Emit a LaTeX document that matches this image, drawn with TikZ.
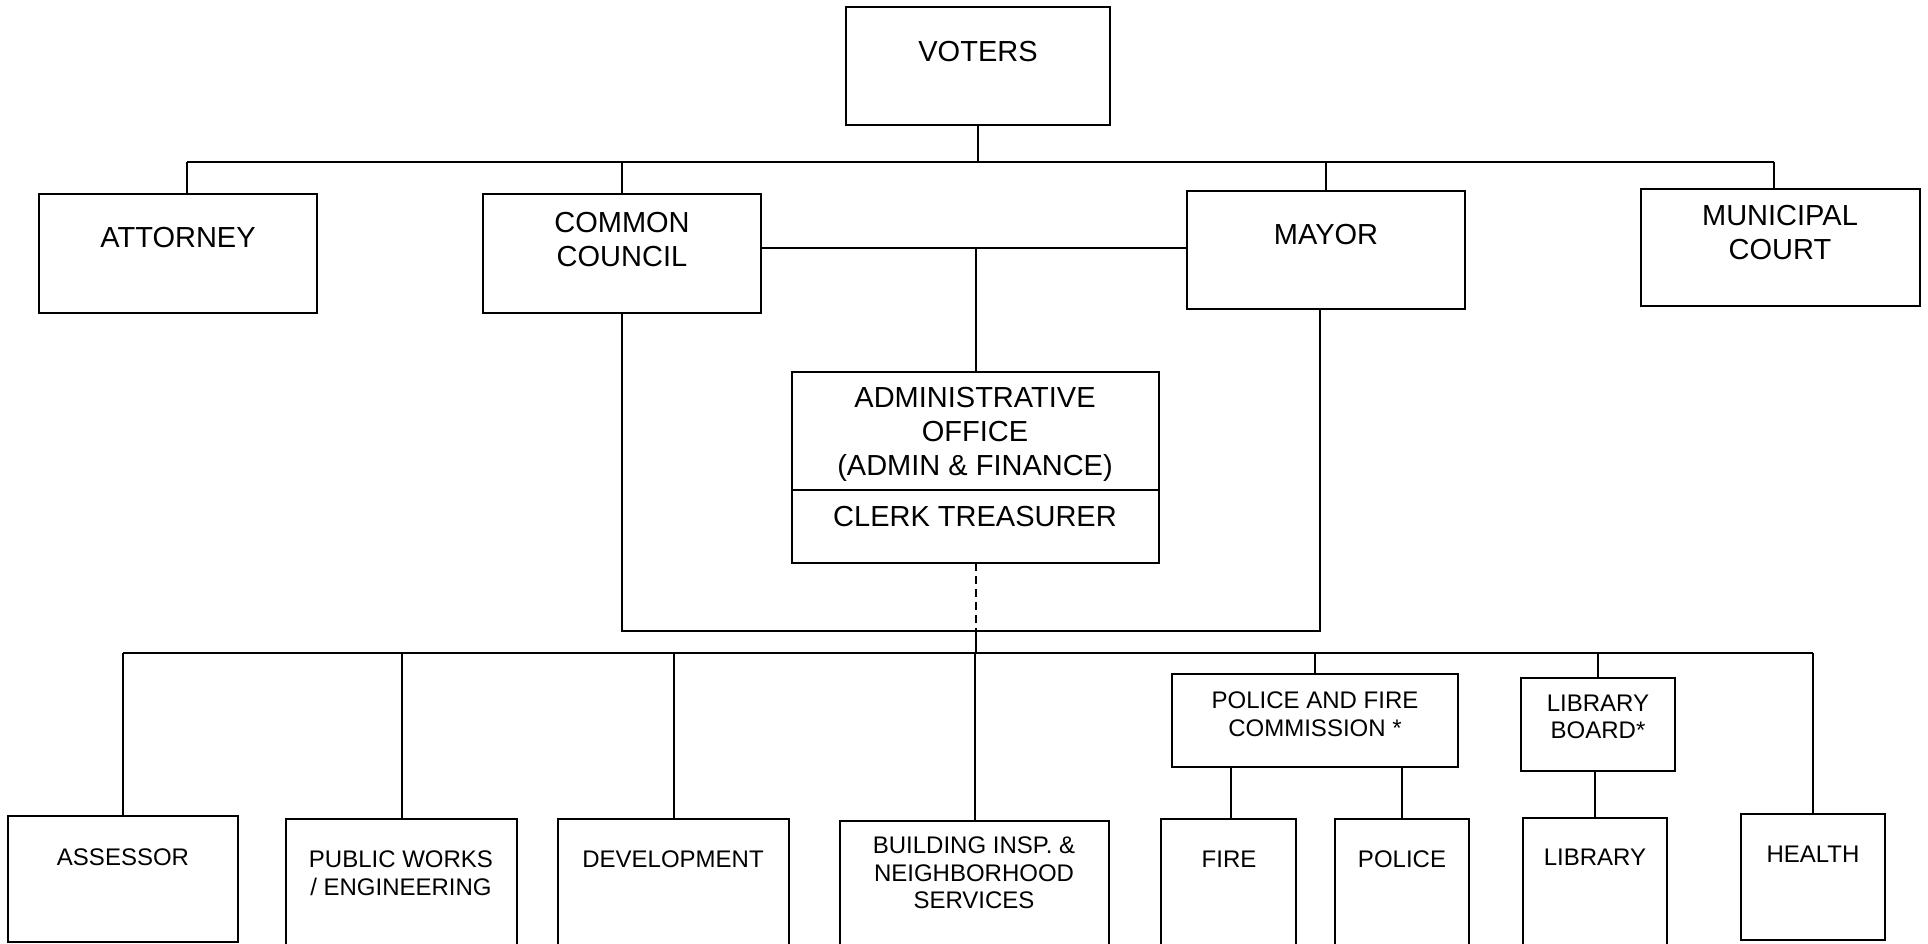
\documentclass[tikz,border=0pt]{standalone}
\usepackage{fontspec}
\setmainfont{Liberation Sans}
\usetikzlibrary{fit}
\tikzset{
    box/.style={draw, line width=1pt, inner sep=0pt, outer sep=0pt},
    big/.style={font=\fontsize{14.5}{17}\selectfont, align=center, inner sep=0pt},
    small/.style={font=\fontsize{12}{13.75}\selectfont, align=center, inner sep=0pt},
    link/.style={line width=1pt},
}
\begin{document}
\begin{tikzpicture}[x=0.5pt, y=-0.5pt]
    \fill[white] (0,0) rectangle (1928,943);
    \useasboundingbox (0,0) rectangle (1928,943);
    % top row
    \node[box, fit={(846,7) (1110,125)}] (voters) {};
    \node[box, fit={(39,194) (317,313)}] (attorney) {};
    \node[box, fit={(483,194) (761,313)}] (council) {};
    \node[box, fit={(1187,191) (1465,309)}] (mayor) {};
    \node[box, fit={(1641,189) (1920,306)}] (court) {};
    \node[box, fit={(792,372) (1159,563)}] (admin) {};
    % departments
    \node[box, fit={(8,816) (238,942)}] (assessor) {};
    \node[box, fit={(286,819) (517,948)}] (pworks) {};
    \node[box, fit={(558,819) (789,948)}] (devel) {};
    \node[box, fit={(840,821) (1109,948)}] (bldg) {};
    \node[box, fit={(1172,674) (1458,767)}] (pfc) {};
    \node[box, fit={(1161,819) (1296,948)}] (fire) {};
    \node[box, fit={(1335,819) (1469,948)}] (police) {};
    \node[box, fit={(1521,678) (1675,771)}] (lboard) {};
    \node[box, fit={(1523,818) (1667,948)}] (library) {};
    \node[box, fit={(1741,814) (1885,940)}] (health) {};
    % texts
    \node[big] (votersT) at (978,52) {VOTERS};
    \node[big] (attorneyT) at (178,238) {ATTORNEY};
    \node[big] (councilT) at (622,240) {COMMON\\COUNCIL};
    \node[big] (mayorT) at (1326,235) {MAYOR};
    \node[big] (courtT) at (1780,233) {MUNICIPAL\\COURT};
    \node[big] (adminT) at (975,434) {ADMINISTRATIVE\\OFFICE\\(ADMIN \& FINANCE)};
    \node[big] (clerkT) at (975,517) {CLERK TREASURER};
    \node[small] (assessorT) at (123,857) {ASSESSOR};
    \node[small] (pworksT) at (401,873) {PUBLIC WORKS\\/ ENGINEERING};
    \node[small] (develT) at (673,859) {DEVELOPMENT};
    \node[small] (bldgT) at (974,873) {BUILDING INSP. \&\\NEIGHBORHOOD\\SERVICES};
    \node[small] (pfcT) at (1315,714) {POLICE AND FIRE\\COMMISSION *};
    \node[small] (fireT) at (1229,859) {FIRE};
    \node[small] (policeT) at (1402,859) {POLICE};
    \node[small] (lboardT) at (1598,717) {LIBRARY\\BOARD*};
    \node[small] (libraryT) at (1595,857) {LIBRARY};
    \node[small] (healthT) at (1813,854) {HEALTH};
    % connectors
    \coordinate (topbus) at (978,162);
    \coordinate (cm) at (975.5,248);
    \coordinate (div) at (975,490);
    \coordinate (loop) at (975,631);
    \coordinate (botbus) at (975,653);
    \draw[link] (voters.south) -- (topbus);
    \draw[link] ([xshift=4.5pt]attorney.north |- topbus) -- ([xshift=-3.5pt]court.north |- topbus);
    \draw[link] ([xshift=4.5pt]attorney.north |- topbus) -- ([xshift=4.5pt]attorney.north);
    \draw[link] ([xshift=-3.5pt]court.north |- topbus) -- ([xshift=-3.5pt]court.north);
    \foreach \n in {council,mayor}
        \draw[link] (\n.north |- topbus) -- (\n.north);
    \draw[link] (council.east |- cm) -- (mayor.west |- cm);
    \draw[link] (cm) -- (admin.north);
    \draw[link] (admin.west |- div) -- (admin.east |- div);
    \draw[link] (council.south) -- (council.south |- loop) -- ([xshift=-3pt]mayor.south |- loop) -- ([xshift=-3pt]mayor.south);
    \draw[link, dash pattern=on 4pt off 2.5pt] (admin.south) -- (admin.south |- loop);
    \draw[link] (admin.south |- loop) -- (admin.south |- botbus);
    \draw[link] (assessor.north |- botbus) -- (health.north |- botbus);
    \foreach \n in {assessor,pworks,devel,bldg,pfc,lboard,health}
        \draw[link] (\n.north |- botbus) -- (\n.north);
    \draw[link] ([xshift=1pt]fire.north |- pfc.south) -- ([xshift=1pt]fire.north);
    \draw[link] (police.north |- pfc.south) -- (police.north);
    \draw[link] (library.north |- lboard.south) -- (library.north);
\end{tikzpicture}
\end{document}
